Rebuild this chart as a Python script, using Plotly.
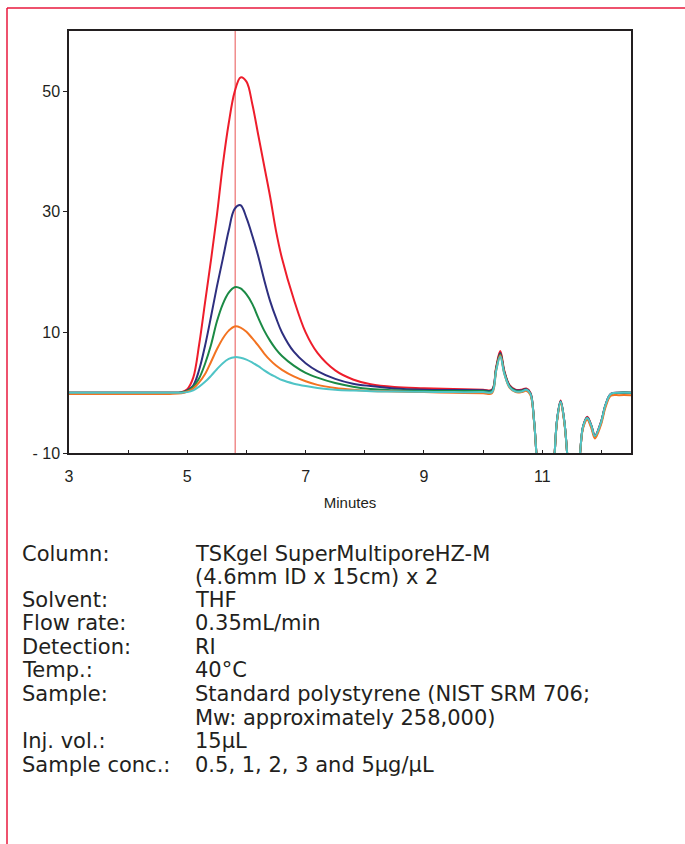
import plotly.graph_objects as go

# Retention time grid (minutes) and RI response for each concentration
minutes = [3.0, 4.0, 4.7, 4.9, 5.0, 5.1, 5.2, 5.3, 5.4, 5.5, 5.6, 5.7, 5.8, 5.9, 6.0, 6.1,
           6.2, 6.3, 6.4, 6.5, 6.6, 6.8, 7.0, 7.2, 7.5, 7.8, 8.1, 8.5, 9.0, 9.5, 10.0,
           10.15, 10.22, 10.29, 10.36, 10.45, 10.55, 10.65, 10.73, 10.8, 10.86, 10.9,
           10.96, 11.05, 11.15, 11.21, 11.25, 11.31, 11.37, 11.42, 11.48, 11.56, 11.64,
           11.69, 11.76, 11.83, 11.89, 11.99, 12.07, 12.16, 12.3, 12.5]

conc_5 = [0, 0, 0, 0.1, 0.6, 2.5, 8.0, 15.0, 22.0, 29.4, 37.8, 44.7, 49.9, 52.3, 51.6, 47.8,
          42.7, 37.6, 32.5, 26.8, 22.3, 15.5, 10.0, 6.6, 3.7, 2.2, 1.4, 0.95, 0.75, 0.6, 0.5,
          0.5, 4.2, 6.9, 3.6, 1.2, 0.5, 0.5, 0.7, 0.0, -4.5, -10, -20, -30, -20, -10, -4.5,
          -1.3, -4.5, -10, -20, -20, -10, -5.6, -4.0, -5.4, -7.1, -4.9, -2.0, -0.2, 0.0, 0.0]
conc_3 = [0, 0, 0, 0.05, 0.4, 1.2, 3.8, 7.8, 12.6, 17.6, 22.2, 26.9, 30.5, 31.1, 29.0, 26.0,
          22.6, 18.7, 15.2, 12.4, 10.0, 6.8, 4.9, 3.6, 2.3, 1.5, 1.1, 0.7, 0.5, 0.45, 0.4,
          0.4, 4.0, 6.6, 3.4, 1.1, 0.4, 0.4, 0.6, -0.1, -4.5, -10, -20, -30, -20, -10, -4.5,
          -1.4, -4.5, -10, -20, -20, -10, -5.6, -4.1, -5.5, -7.2, -5.0, -2.0, -0.2, 0.0, 0.0]
conc_2 = [0, 0, 0, 0.05, 0.3, 1.0, 2.4, 4.8, 7.9, 11.8, 14.7, 16.6, 17.5, 17.3, 16.3, 14.7,
          12.4, 10.3, 8.6, 7.2, 6.1, 4.5, 3.3, 2.5, 1.6, 1.0, 0.6, 0.4, 0.3, 0.3, 0.3,
          0.3, 3.9, 6.4, 3.3, 1.0, 0.3, 0.3, 0.5, -0.2, -4.5, -10, -20, -30, -20, -10, -4.6,
          -1.5, -4.6, -10, -20, -20, -10, -5.7, -4.2, -5.6, -7.3, -5.1, -2.1, -0.3, 0.0, 0.0]
conc_1 = [-0.2, -0.2, -0.2, -0.1, 0.2, 0.7, 1.7, 3.1, 5.1, 7.2, 9.0, 10.3, 11.0, 10.8, 10.1, 9.0,
          7.8, 6.5, 5.4, 4.5, 3.8, 2.7, 1.9, 1.3, 0.8, 0.5, 0.3, 0.2, 0.1, 0.0, -0.1,
          -0.1, 3.7, 6.2, 3.1, 0.8, 0.1, 0.1, 0.3, -0.4, -4.7, -10, -20, -30, -20, -10, -4.8,
          -1.7, -4.8, -10, -20, -20, -10, -5.9, -4.5, -5.9, -7.6, -5.4, -2.4, -0.5, -0.4, -0.4]
conc_05 = [0, 0, 0, 0.0, 0.1, 0.4, 1.0, 1.8, 2.8, 3.9, 4.9, 5.6, 5.9, 5.8, 5.5, 5.0,
           4.4, 3.7, 3.1, 2.6, 2.1, 1.5, 1.1, 0.8, 0.5, 0.35, 0.25, 0.2, 0.15, 0.1, 0.1,
           0.1, 3.6, 6.0, 3.1, 0.9, 0.2, 0.2, 0.5, -0.2, -4.5, -10, -20, -30, -20, -10, -4.5,
           -1.5, -4.5, -10, -20, -20, -10, -5.6, -4.2, -5.5, -7.2, -5.0, -2.0, -0.2, 0.0, 0.0]

series_names = ['5 µg/µL', '3 µg/µL', '2 µg/µL', '1 µg/µL', '0.5 µg/µL']
series_values = [conc_5, conc_3, conc_2, conc_1, conc_05]
series_colors = ['#EE1D2B', '#2E2F7F', '#1B8A45', '#F37321', '#4FC4C6']

marker_time = 5.81  # vertical reference line

x_tickvals = [3, 5, 7, 9, 11]
y_tickvals = [-10, 10, 30, 50]
y_ticktext = ['- 10', '10', '30', '50']

cond_labels = ['Column:', '', 'Solvent:', 'Flow rate:', 'Detection:', 'Temp.:',
               'Sample:', '', 'Inj. vol.:', 'Sample conc.:']
cond_values = ['TSKgel SuperMultiporeHZ-M', '(4.6mm ID x 15cm) x 2', 'THF', '0.35mL/min',
               'RI', '40°C', 'Standard polystyrene (NIST SRM 706;',
               'Mw: approximately 258,000)', '15µL', '0.5, 1, 2, 3 and 5µg/µL']

W, H = 685, 844
L, R, T, B = 69, 54, 31, 391


def px_x(p):
    return (p - L) / (W - L - R)


def px_y(p):
    return 1 - (p - T) / (H - T - B)


fig = go.Figure()

for name, vals, color in zip(series_names, series_values, series_colors):
    fig.add_trace(go.Scatter(
        x=minutes, y=vals, name=name, mode='lines',
        line=dict(color=color, width=2, shape='spline', smoothing=1.0),
        showlegend=False
    ))

fig.add_shape(type='line', x0=marker_time, x1=marker_time, y0=0, y1=1,
              xref='x', yref='paper', line=dict(color='#F08C8C', width=1.5), layer='below')

# red frame around the figure (top and left edges visible)
frame = '#E8193C'
fig.add_shape(type='line', xref='paper', yref='paper', x0=px_x(7), x1=px_x(700),
              y0=px_y(8), y1=px_y(8), line=dict(color=frame, width=1.5))
fig.add_shape(type='line', xref='paper', yref='paper', x0=px_x(7), x1=px_x(7),
              y0=px_y(8), y1=px_y(860), line=dict(color=frame, width=1.5))

text_font = dict(family='DejaVu Sans', size=21, color='#231F20')
row_y = [554, 577, 600, 623, 647, 670, 694, 718, 741, 765]
for lab, val, yy in zip(cond_labels, cond_values, row_y):
    if lab:
        fig.add_annotation(x=px_x(20), y=px_y(yy), xref='paper', yref='paper', text=lab,
                           showarrow=False, xanchor='left', yanchor='middle', font=text_font)
    fig.add_annotation(x=px_x(193), y=px_y(yy), xref='paper', yref='paper', text=val,
                       showarrow=False, xanchor='left', yanchor='middle', font=text_font)

fig.update_layout(
    width=W, height=H,
    margin=dict(l=L, r=R, t=T, b=B),
    paper_bgcolor='white',
    plot_bgcolor='white',
    font=dict(family='Liberation Sans', color='#231F20'),
    xaxis=dict(
        range=[3, 12.5], tickvals=x_tickvals, ticks='inside', ticklen=3, tickwidth=1,
        tickcolor='#231F20', showgrid=False, zeroline=False, showline=True,
        linecolor='#231F20', linewidth=1.5, mirror=True,
        minor=dict(dtick=1, tick0=3, ticks='inside', ticklen=3, tickcolor='#231F20'),
        tickfont=dict(size=16), ticklabelstandoff=8,
        title=dict(text='Minutes', font=dict(size=15), standoff=14)
    ),
    yaxis=dict(
        range=[-10, 60], tickvals=y_tickvals, ticktext=y_ticktext, ticks='outside',
        ticklen=4, tickcolor='#231F20', showgrid=False, zeroline=False, showline=True,
        linecolor='#231F20', linewidth=1.5, mirror=True, tickfont=dict(size=16)
    )
)

# page body has a default 8px margin; drop it so the figure sits at the window origin
fig.write_html("out.html", config={'displayModeBar': False},
               post_script="document.body.style.margin='0';")
